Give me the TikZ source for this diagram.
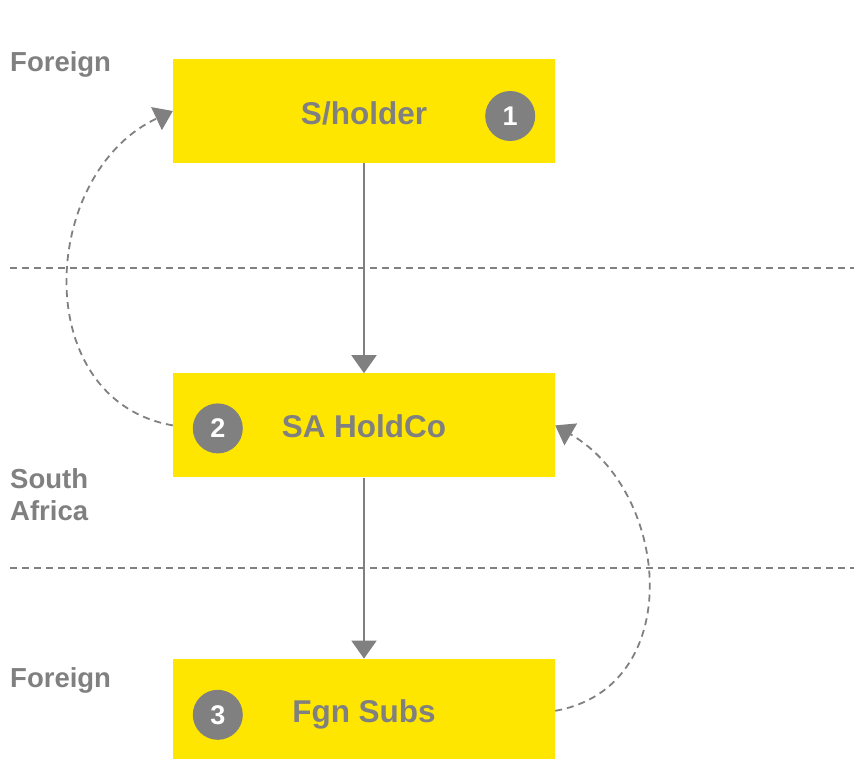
\documentclass[tikz,border=0pt]{standalone}
\usepackage{fontspec}
\setmainfont{Liberation Sans}
\usetikzlibrary{arrows.meta,positioning}
\definecolor{eyyellow}{HTML}{FFE600}
\definecolor{eygray}{HTML}{808080}

\begin{document}
\begin{tikzpicture}[x=1pt,y=1pt]
  \tikzstyle{entity}=[rectangle, fill=eyyellow, minimum width=382pt, minimum height=104pt,
                      inner sep=0pt, text=eygray, font=\bfseries\fontsize{31.5}{36}\selectfont]
  \tikzstyle{num}=[circle, fill=eygray, minimum size=50pt, inner sep=0pt, text=white,
                   font=\bfseries\fontsize{27}{30}\selectfont]
  \tikzstyle{region}=[anchor=base west, inner sep=0pt, text=eygray,
                      font=\bfseries\fontsize{27.5}{33}\selectfont]
  \tikzstyle{own}=[-{Triangle[width=25pt,length=18pt]}, draw=eygray, line width=2pt]
  \tikzstyle{flow}=[own, dash pattern=on 7pt off 5pt, line width=1.8pt]
  \tikzstyle{border}=[draw=eygray, line width=1.8pt, dash pattern=on 7pt off 5pt]
  \useasboundingbox (0,0) rectangle (854,-758);
  \node[entity] (Sholder) at (364,-111) {\raisebox{-2pt}[\height][\depth]{S/holder}};
  \node[entity, below=210pt of Sholder] (HoldCo) {\raisebox{-1pt}[\height][\depth]{SA HoldCo}};
  \node[entity, below=181pt of HoldCo] (Subs) {\raisebox{-4pt}[\height][\depth]{Fgn Subs}};
  \node[num] (One) at ([xshift=-45pt,yshift=-5pt]Sholder.east) {1};
  \node[num] (Two) at ([xshift=45pt,yshift=-3pt]HoldCo.west) {2};
  \node[num] (Three) at ([xshift=45pt,yshift=-4pt]Subs.west) {3};
  \node[region] (TopLabel) at (10,-71) {Foreign};
  \node[region] (MidLabel) at (10,-488) {\begin{tabular}[t]{@{}l@{}}South\\[-1pt]
                                                                   Africa
                                         \end{tabular}};
  \node[region] (LowLabel) at (10,-687) {Foreign};
  \draw [border] (10,-268) -- (854,-268);
  \draw [border] (10,-568) -- (854,-568);
  \draw [own] (Sholder) -- (HoldCo);
  \draw [own] (HoldCo) -- (Subs);
  \draw [flow] (HoldCo.west) to[out=170,in=205,looseness=1.2] (Sholder.west);
  \draw [flow] (Subs.east) to[out=10,in=-30,looseness=1.2] (HoldCo.east);
\end{tikzpicture}
\end{document}
